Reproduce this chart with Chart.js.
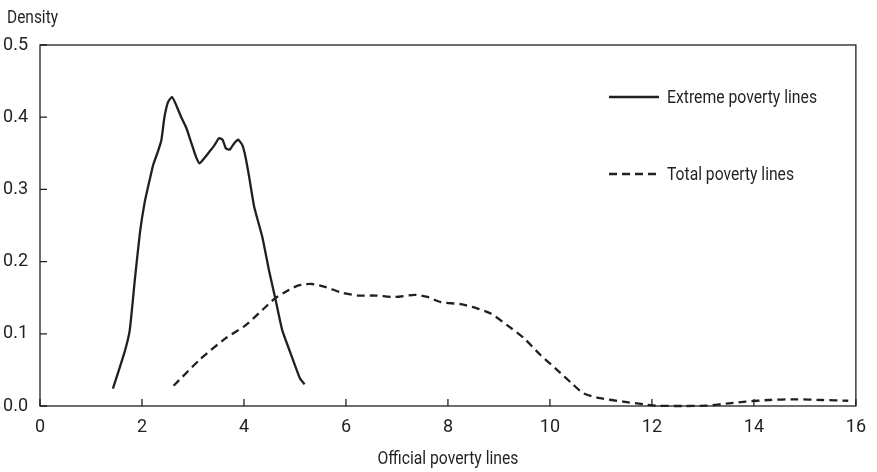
<!DOCTYPE html>
<html>
<head>
<meta charset="utf-8">
<script src="https://cdn.jsdelivr.net/npm/chart.js@4"></script>
<style>
  html, body { margin: 0; padding: 0; background: #fff; }
  #wrap { width: 877px; height: 472px; }
</style>
</head>
<body>
<div id="wrap"><canvas id="densityChart" width="877" height="472"></canvas></div>
<script>
// density curves
var extremeX = [1.43, 1.66, 1.76, 1.86, 1.96, 2.05, 2.15, 2.22, 2.31, 2.38, 2.44, 2.51, 2.59, 2.67, 2.77, 2.87, 2.96, 3.06, 3.13, 3.22, 3.32, 3.42, 3.51, 3.58, 3.645, 3.72, 3.81, 3.885, 3.97, 4.03, 4.10, 4.20, 4.36, 4.49, 4.62, 4.75, 4.94, 5.10, 5.19];
var extremeY = [0.024, 0.075, 0.105, 0.175, 0.240, 0.281, 0.313, 0.334, 0.352, 0.368, 0.400, 0.421, 0.428, 0.417, 0.400, 0.385, 0.366, 0.345, 0.336, 0.343, 0.352, 0.361, 0.371, 0.369, 0.357, 0.355, 0.364, 0.369, 0.361, 0.345, 0.318, 0.276, 0.234, 0.188, 0.147, 0.105, 0.068, 0.038, 0.030];

var totalX = [2.62, 3.13, 3.645, 4.035, 4.36, 4.59, 4.81, 5.07, 5.33, 5.59, 5.92, 6.24, 6.57, 6.96, 7.35, 7.60, 7.86, 8.25, 8.58, 8.84, 9.16, 9.49, 9.81, 10.14, 10.45, 10.66, 10.98, 11.44, 11.83, 12.08, 12.6, 13.06, 13.51, 13.84, 14.29, 14.81, 15.33, 15.85];
var totalY = [0.028, 0.064, 0.094, 0.112, 0.133, 0.148, 0.158, 0.167, 0.169, 0.165, 0.157, 0.153, 0.153, 0.151, 0.154, 0.151, 0.144, 0.141, 0.135, 0.128, 0.112, 0.094, 0.071, 0.050, 0.030, 0.0175, 0.011, 0.006, 0.0024, 0.0004, 0.0, 0.0004, 0.0037, 0.006, 0.0083, 0.0093, 0.0083, 0.0073];

var seriesNames = ['Extreme poverty lines', 'Total poverty lines'];
var xTicks = [0, 2, 4, 6, 8, 10, 12, 14, 16];
var yTicks = [0, 0.1, 0.2, 0.3, 0.4, 0.5];

var ink = '#231f20';
var fontFamily = 'Roboto, "DejaVu Sans Condensed", Arial, sans-serif';

function toPoints(xs, ys) {
    return xs.map(function (x, i) { return {x: x, y: ys[i]}; });
}

// frame, inward ticks, titles and the little legend on the right
var framePlugin = {
    id: 'frame',
    afterDraw: function (chart) {
        var ctx = chart.ctx;
        var a = chart.chartArea;
        var xs = chart.scales.x, ys = chart.scales.y;
        ctx.save();
        ctx.strokeStyle = ink;
        ctx.lineWidth = 1.3;
        ctx.strokeRect(a.left, a.top, a.right - a.left, a.bottom - a.top);
        ctx.beginPath();
        xTicks.forEach(function (v) {
            var px = xs.getPixelForValue(v);
            ctx.moveTo(px, a.bottom);
            ctx.lineTo(px, a.bottom - 7);
        });
        yTicks.forEach(function (v) {
            var py = ys.getPixelForValue(v);
            ctx.moveTo(a.left, py);
            ctx.lineTo(a.left + 7, py);
        });
        ctx.stroke();

        // legend
        ctx.lineWidth = 2.3;
        ctx.beginPath();
        ctx.moveTo(609, 97);
        ctx.lineTo(659, 97);
        ctx.stroke();
        ctx.setLineDash([8, 5]);
        ctx.beginPath();
        ctx.moveTo(609, 174);
        ctx.lineTo(659, 174);
        ctx.stroke();
        ctx.setLineDash([]);

        ctx.fillStyle = ink;
        ctx.font = '18.5px ' + fontFamily;
        ctx.textBaseline = 'middle';
        ctx.textAlign = 'left';
        ctx.fillText(seriesNames[0], 667, 98, 150);
        ctx.fillText(seriesNames[1], 667, 175, 127);
        ctx.fillText('Density', 7, 18, 51);
        ctx.textAlign = 'center';
        ctx.fillText('Official poverty lines', (a.left + a.right) / 2, 459, 141);
        ctx.restore();
    }
};

var ctx = document.getElementById('densityChart');
var chart = new Chart(ctx, {
    type: 'line',
    data: {
        datasets: [
            {
                label: seriesNames[0],
                data: toPoints(extremeX, extremeY),
                borderColor: ink,
                borderWidth: 2.3,
                pointRadius: 0,
                tension: 0.15,
                fill: false,
                clip: false
            },
            {
                label: seriesNames[1],
                data: toPoints(totalX, totalY),
                borderColor: ink,
                borderWidth: 2.3,
                borderDash: [8, 5],
                pointRadius: 0,
                tension: 0.25,
                fill: false,
                clip: false
            }
        ]
    },
    options: {
        responsive: false,
        animation: false,
        layout: {padding: {top: 45, right: 15, left: 0, bottom: 0}},
        plugins: {
            legend: {display: false},
            tooltip: {enabled: false}
        },
        scales: {
            x: {
                type: 'linear',
                min: 0,
                max: 16,
                afterFit: function (s) { s.height = 66; },
                afterBuildTicks: function (s) { s.ticks = xTicks.map(function (v) { return {value: v}; }); },
                grid: {display: false, drawTicks: false},
                border: {display: false},
                ticks: {
                    color: ink,
                    padding: 11,
                    font: {family: fontFamily, size: 18},
                    callback: function (v) { return String(v); }
                }
            },
            y: {
                type: 'linear',
                min: 0,
                max: 0.5,
                afterFit: function (s) { s.width = 40; },
                afterBuildTicks: function (s) { s.ticks = yTicks.map(function (v) { return {value: v}; }); },
                grid: {display: false, drawTicks: false},
                border: {display: false},
                ticks: {
                    color: ink,
                    padding: 12,
                    font: {family: fontFamily, size: 18},
                    callback: function (v) { return Number(v).toFixed(1); }
                }
            }
        }
    },
    plugins: [framePlugin]
});
</script>
</body>
</html>
